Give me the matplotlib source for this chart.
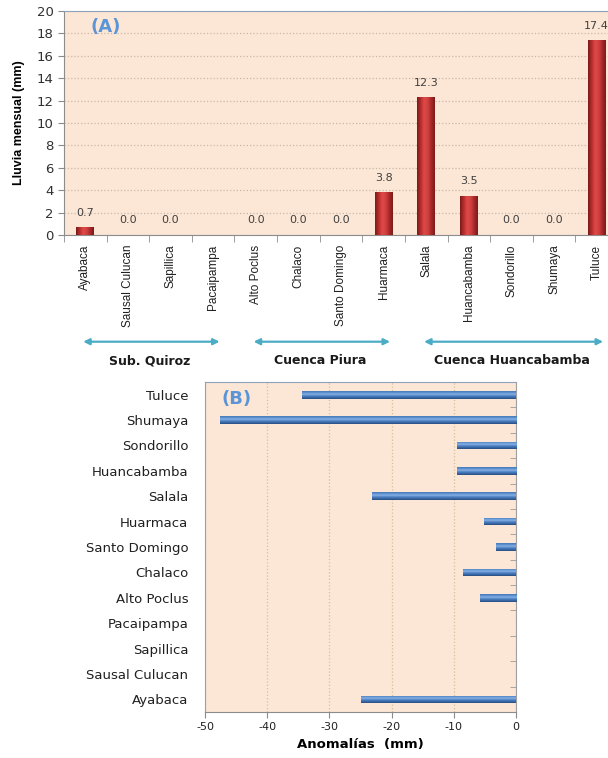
import numpy as np
import matplotlib
matplotlib.use("Agg")
import matplotlib.pyplot as plt
from matplotlib.colors import LinearSegmentedColormap

plt.rcParams["axes.unicode_minus"] = False

# estaciones (mismo orden en ambos paneles)
stations = ["Ayabaca", "Sausal Culucan", "Sapillica", "Pacaipampa", "Alto Poclus",
            "Chalaco", "Santo Domingo", "Huarmaca", "Salala", "Huancabamba",
            "Sondorillo", "Shumaya", "Tuluce"]

# lluvia mensual (mm); nan = sin dato
rain = [0.7, 0.0, 0.0, np.nan, 0.0, 0.0, 0.0, 3.8, 12.3, 3.5, 0.0, 0.0, 17.4]

# anomalias (mm)
anomaly = [-24.9, np.nan, np.nan, np.nan, -5.8, -8.5, -3.2, -5.1, -23.1, -9.5, -9.5, -47.6, -34.4]

# grupos de cuencas: (nombre, primer indice, ultimo indice)
groups = [("Sub. Quiroz", 0, 3), ("Cuenca Piura", 4, 7), ("Cuenca Huancabamba", 8, 12)]

BG = "#FCE6D5"
red_cyl = LinearSegmentedColormap.from_list(
    "redcyl", ["#7A1A1A", "#B82C2C", "#DE4A4A", "#D24040", "#A82828", "#7A1A1A"])
blue_cyl = LinearSegmentedColormap.from_list(
    "bluecyl", ["#274B7C", "#3A6AA8", "#4D80C2", "#8DB6E8", "#5C8FD0", "#4676B5"])


def shade_bars(ax, bars, cmap, vertical):
    # pinta cada barra con un degradado tipo cilindro
    for r in bars:
        x, y = r.get_xy()
        w, h = r.get_width(), r.get_height()
        if w == 0 or h == 0 or np.isnan(w) or np.isnan(h):
            continue
        if vertical:
            grad = np.linspace(0, 1, 64).reshape(1, -1)
        else:
            grad = np.linspace(0, 1, 64).reshape(-1, 1)
        x0, x1 = sorted([x, x + w])
        y0, y1 = sorted([y, y + h])
        im = ax.imshow(grad, extent=[x0, x1, y0, y1], cmap=cmap, aspect="auto",
                       origin="lower", zorder=3, interpolation="bicubic")
        im.set_clip_path(r)


fig = plt.figure(figsize=(6.08, 7.58), dpi=100)

# ---------------- panel (A) ----------------
axA = fig.add_axes([64 / 608, 1 - 235 / 758, 554 / 608, 224 / 758])
axA.set_facecolor(BG)
xs = np.arange(len(stations)) + 0.5
rain_plot = [0 if np.isnan(v) else v for v in rain]
barsA = axA.bar(xs, rain_plot, width=0.42, color="#B82C2C", edgecolor="none", zorder=2)
shade_bars(axA, barsA, red_cyl, vertical=True)
for x, v in zip(xs, rain):
    if np.isnan(v):
        continue
    axA.text(x, v + 1.3, f"{v:.1f}", ha="center", va="center", fontsize=8,
             color="#404040", zorder=4)

axA.set_xlim(0, len(stations))
axA.set_ylim(0, 20)
axA.set_yticks(np.arange(0, 21, 2))
axA.yaxis.grid(True, linestyle=":", color="#C9B9A9", linewidth=0.9, zorder=0)
axA.set_axisbelow(True)
axA.set_xticks(xs)
axA.set_xticklabels(stations, rotation=90, fontsize=8.5,
                    family="Liberation Sans", color="#202020")
axA.set_xticks(np.arange(0, len(stations) + 1), minor=True)
axA.tick_params(axis="x", which="major", length=0, pad=7)
axA.tick_params(axis="x", which="minor", length=5, color="#8C8C8C", direction="out")
axA.tick_params(axis="y", length=4, color="#8C8C8C", labelsize=9.5, labelcolor="#303030")
axA.spines["right"].set_visible(False)
axA.spines["top"].set_color("#8FA2BC")
axA.spines["left"].set_color("#8C8C8C")
axA.spines["bottom"].set_color("#8C8C8C")
axA.set_ylabel("Lluvia mensual (mm)", fontsize=9, fontweight="bold",
               family="Liberation Sans", labelpad=8)
axA.text(0.075, 0.93, "(A)", transform=axA.transAxes, fontsize=13,
         fontweight="bold", color="#5B95D8", ha="center", va="center")

# flechas y nombres de cuencas
for name, i0, i1 in groups:
    axA.annotate("", xy=(i1 + 0.65, 1 - 341.7 / 758), xytext=(i0 + 0.45, 1 - 341.7 / 758),
                 xycoords=("data", "figure fraction"), textcoords=("data", "figure fraction"),
                 arrowprops=dict(arrowstyle="<|-|>", color="#4BACC6", lw=1.6,
                                 mutation_scale=9, shrinkA=0, shrinkB=0),
                 annotation_clip=False)
    axA.annotate(name, xy=((xs[i0] + xs[i1]) / 2, 1 - 361 / 758),
                 xycoords=("data", "figure fraction"), ha="center", va="center",
                 fontsize=9, fontweight="bold", color="#1A1A1A", annotation_clip=False)

# ---------------- panel (B) ----------------
axB = fig.add_axes([205 / 608, 1 - 712 / 758, 311 / 608, 330 / 758])
axB.set_facecolor(BG)
ys = np.arange(len(stations))
anom_plot = [0 if np.isnan(v) else v for v in anomaly]
barsB = axB.barh(ys, anom_plot, height=0.3, color="#4A7EBB", edgecolor="none", zorder=2)
shade_bars(axB, barsB, blue_cyl, vertical=False)

axB.set_xlim(-50, 0)
axB.set_ylim(-0.5, len(stations) - 0.5)
axB.set_xticks(np.arange(-50, 1, 10))
axB.xaxis.grid(True, linestyle=":", color="#CFC49A", linewidth=0.9, zorder=0)
axB.set_axisbelow(True)
axB.set_yticks(ys)
axB.set_yticklabels(stations, fontsize=9.5, color="#202020")
axB.tick_params(axis="y", which="major", length=0, pad=12)
axB.set_yticks(np.arange(-0.5, len(stations)), minor=True)
axB.tick_params(axis="y", which="minor", left=False, right=True, direction="in",
                length=4, color="#9A9A9A")
axB.tick_params(axis="x", length=4, color="#8C8C8C", labelsize=8, labelcolor="#202020")
axB.spines["top"].set_color("#8FA2BC")
axB.spines["left"].set_color("#8FA2BC")
axB.spines["right"].set_color("#A0A0A0")
axB.spines["bottom"].set_color("#8C8C8C")
axB.set_xlabel("Anomalías  (mm)", fontsize=9.5, fontweight="bold", labelpad=4)
axB.text(0.1, 0.95, "(B)", transform=axB.transAxes, fontsize=13,
         fontweight="bold", color="#5B95D8", ha="center", va="center")

fig.savefig("out.png", dpi=100, facecolor="white")
